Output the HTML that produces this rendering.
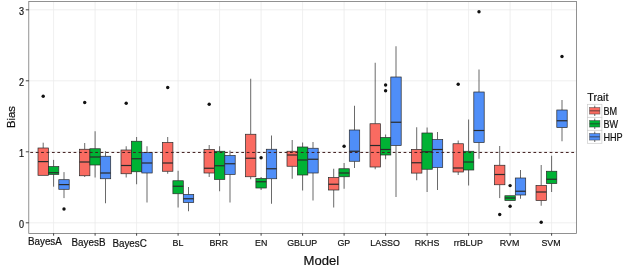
<!DOCTYPE html>
<html><head><meta charset="utf-8"><title>Bias boxplot</title>
<style>html,body{margin:0;padding:0;background:#fff}svg{display:block}text{font-family:"Liberation Sans",Arial,sans-serif;fill:#111;stroke:#111;stroke-width:0.2px}</style></head><body>
<svg width="625" height="267" viewBox="0 0 625 267">
<rect x="0" y="0" width="625" height="267" fill="#ffffff"/>
<line x1="28.8" x2="576.4" y1="222.80" y2="222.80" stroke="#ebebeb" stroke-width="0.8"/>
<line x1="28.8" x2="576.4" y1="151.80" y2="151.80" stroke="#ebebeb" stroke-width="0.8"/>
<line x1="28.8" x2="576.4" y1="80.80" y2="80.80" stroke="#ebebeb" stroke-width="0.8"/>
<line x1="28.8" x2="576.4" y1="9.80" y2="9.80" stroke="#ebebeb" stroke-width="0.8"/>
<line x1="53.60" x2="53.60" y1="1.6" y2="233.4" stroke="#ebebeb" stroke-width="0.8"/>
<line x1="95.10" x2="95.10" y1="1.6" y2="233.4" stroke="#ebebeb" stroke-width="0.8"/>
<line x1="136.60" x2="136.60" y1="1.6" y2="233.4" stroke="#ebebeb" stroke-width="0.8"/>
<line x1="178.10" x2="178.10" y1="1.6" y2="233.4" stroke="#ebebeb" stroke-width="0.8"/>
<line x1="219.60" x2="219.60" y1="1.6" y2="233.4" stroke="#ebebeb" stroke-width="0.8"/>
<line x1="261.10" x2="261.10" y1="1.6" y2="233.4" stroke="#ebebeb" stroke-width="0.8"/>
<line x1="302.60" x2="302.60" y1="1.6" y2="233.4" stroke="#ebebeb" stroke-width="0.8"/>
<line x1="344.10" x2="344.10" y1="1.6" y2="233.4" stroke="#ebebeb" stroke-width="0.8"/>
<line x1="385.60" x2="385.60" y1="1.6" y2="233.4" stroke="#ebebeb" stroke-width="0.8"/>
<line x1="427.10" x2="427.10" y1="1.6" y2="233.4" stroke="#ebebeb" stroke-width="0.8"/>
<line x1="468.60" x2="468.60" y1="1.6" y2="233.4" stroke="#ebebeb" stroke-width="0.8"/>
<line x1="510.10" x2="510.10" y1="1.6" y2="233.4" stroke="#ebebeb" stroke-width="0.8"/>
<line x1="551.60" x2="551.60" y1="1.6" y2="233.4" stroke="#ebebeb" stroke-width="0.8"/>
<circle cx="43.20" cy="96.25" r="1.7" fill="#111"/>
<line x1="43.20" x2="43.20" y1="142.7" y2="148" stroke="#2a2a2a" stroke-width="0.7"/>
<rect x="38.00" y="148" width="10.4" height="27.30" fill="#FA6B61" stroke="#2a2a2a" stroke-width="0.7"/>
<line x1="38.00" x2="48.40" y1="161.6" y2="161.6" stroke="#2a2a2a" stroke-width="1.2"/>
<line x1="53.60" x2="53.60" y1="159.9" y2="166.6" stroke="#2a2a2a" stroke-width="0.7"/>
<line x1="53.60" x2="53.60" y1="174.4" y2="186.7" stroke="#2a2a2a" stroke-width="0.7"/>
<rect x="48.40" y="166.6" width="10.4" height="7.80" fill="#00B234" stroke="#2a2a2a" stroke-width="0.7"/>
<line x1="48.40" x2="58.80" y1="172.7" y2="172.7" stroke="#2a2a2a" stroke-width="1.2"/>
<circle cx="64.00" cy="209" r="1.7" fill="#111"/>
<line x1="64.00" x2="64.00" y1="172.1" y2="179.7" stroke="#2a2a2a" stroke-width="0.7"/>
<line x1="64.00" x2="64.00" y1="189.3" y2="198.1" stroke="#2a2a2a" stroke-width="0.7"/>
<rect x="58.80" y="179.7" width="10.4" height="9.60" fill="#4F8EF8" stroke="#2a2a2a" stroke-width="0.7"/>
<line x1="58.80" x2="69.20" y1="184.6" y2="184.6" stroke="#2a2a2a" stroke-width="1.2"/>
<circle cx="84.70" cy="102.5" r="1.7" fill="#111"/>
<line x1="84.70" x2="84.70" y1="143" y2="149.25" stroke="#2a2a2a" stroke-width="0.7"/>
<line x1="84.70" x2="84.70" y1="175.75" y2="177" stroke="#2a2a2a" stroke-width="0.7"/>
<rect x="79.50" y="149.25" width="10.4" height="26.50" fill="#FA6B61" stroke="#2a2a2a" stroke-width="0.7"/>
<line x1="79.50" x2="89.90" y1="162" y2="162" stroke="#2a2a2a" stroke-width="1.2"/>
<line x1="95.10" x2="95.10" y1="131.25" y2="148.75" stroke="#2a2a2a" stroke-width="0.7"/>
<line x1="95.10" x2="95.10" y1="165" y2="177.5" stroke="#2a2a2a" stroke-width="0.7"/>
<rect x="89.90" y="148.75" width="10.4" height="16.25" fill="#00B234" stroke="#2a2a2a" stroke-width="0.7"/>
<line x1="89.90" x2="100.30" y1="157" y2="157" stroke="#2a2a2a" stroke-width="1.2"/>
<line x1="105.50" x2="105.50" y1="151.25" y2="156.25" stroke="#2a2a2a" stroke-width="0.7"/>
<line x1="105.50" x2="105.50" y1="178.75" y2="203.25" stroke="#2a2a2a" stroke-width="0.7"/>
<rect x="100.30" y="156.25" width="10.4" height="22.50" fill="#4F8EF8" stroke="#2a2a2a" stroke-width="0.7"/>
<line x1="100.30" x2="110.70" y1="173" y2="173" stroke="#2a2a2a" stroke-width="1.2"/>
<circle cx="126.20" cy="103.25" r="1.7" fill="#111"/>
<line x1="126.20" x2="126.20" y1="146.25" y2="150" stroke="#2a2a2a" stroke-width="0.7"/>
<line x1="126.20" x2="126.20" y1="173.75" y2="177.5" stroke="#2a2a2a" stroke-width="0.7"/>
<rect x="121.00" y="150" width="10.4" height="23.75" fill="#FA6B61" stroke="#2a2a2a" stroke-width="0.7"/>
<line x1="121.00" x2="131.40" y1="165.5" y2="165.5" stroke="#2a2a2a" stroke-width="1.2"/>
<line x1="136.60" x2="136.60" y1="137" y2="141.25" stroke="#2a2a2a" stroke-width="0.7"/>
<line x1="136.60" x2="136.60" y1="171.75" y2="184.25" stroke="#2a2a2a" stroke-width="0.7"/>
<rect x="131.40" y="141.25" width="10.4" height="30.50" fill="#00B234" stroke="#2a2a2a" stroke-width="0.7"/>
<line x1="131.40" x2="141.80" y1="158.75" y2="158.75" stroke="#2a2a2a" stroke-width="1.2"/>
<line x1="147.00" x2="147.00" y1="146.25" y2="152.5" stroke="#2a2a2a" stroke-width="0.7"/>
<line x1="147.00" x2="147.00" y1="173" y2="202.5" stroke="#2a2a2a" stroke-width="0.7"/>
<rect x="141.80" y="152.5" width="10.4" height="20.50" fill="#4F8EF8" stroke="#2a2a2a" stroke-width="0.7"/>
<line x1="141.80" x2="152.20" y1="163" y2="163" stroke="#2a2a2a" stroke-width="1.2"/>
<circle cx="167.70" cy="87.5" r="1.7" fill="#111"/>
<line x1="167.70" x2="167.70" y1="137" y2="142.5" stroke="#2a2a2a" stroke-width="0.7"/>
<line x1="167.70" x2="167.70" y1="171.25" y2="173.75" stroke="#2a2a2a" stroke-width="0.7"/>
<rect x="162.50" y="142.5" width="10.4" height="28.75" fill="#FA6B61" stroke="#2a2a2a" stroke-width="0.7"/>
<line x1="162.50" x2="172.90" y1="163" y2="163" stroke="#2a2a2a" stroke-width="1.2"/>
<line x1="178.10" x2="178.10" y1="170.75" y2="180.75" stroke="#2a2a2a" stroke-width="0.7"/>
<line x1="178.10" x2="178.10" y1="193.75" y2="207.5" stroke="#2a2a2a" stroke-width="0.7"/>
<rect x="172.90" y="180.75" width="10.4" height="13.00" fill="#00B234" stroke="#2a2a2a" stroke-width="0.7"/>
<line x1="172.90" x2="183.30" y1="186.25" y2="186.25" stroke="#2a2a2a" stroke-width="1.2"/>
<line x1="188.50" x2="188.50" y1="187" y2="194.5" stroke="#2a2a2a" stroke-width="0.7"/>
<line x1="188.50" x2="188.50" y1="202.5" y2="211.25" stroke="#2a2a2a" stroke-width="0.7"/>
<rect x="183.30" y="194.5" width="10.4" height="8.00" fill="#4F8EF8" stroke="#2a2a2a" stroke-width="0.7"/>
<line x1="183.30" x2="193.70" y1="198.75" y2="198.75" stroke="#2a2a2a" stroke-width="1.2"/>
<circle cx="209.20" cy="104.25" r="1.7" fill="#111"/>
<line x1="209.20" x2="209.20" y1="145" y2="149.5" stroke="#2a2a2a" stroke-width="0.7"/>
<line x1="209.20" x2="209.20" y1="173" y2="177" stroke="#2a2a2a" stroke-width="0.7"/>
<rect x="204.00" y="149.5" width="10.4" height="23.50" fill="#FA6B61" stroke="#2a2a2a" stroke-width="0.7"/>
<line x1="204.00" x2="214.40" y1="168.25" y2="168.25" stroke="#2a2a2a" stroke-width="1.2"/>
<line x1="219.60" x2="219.60" y1="146.25" y2="151.25" stroke="#2a2a2a" stroke-width="0.7"/>
<line x1="219.60" x2="219.60" y1="179.4" y2="191.25" stroke="#2a2a2a" stroke-width="0.7"/>
<rect x="214.40" y="151.25" width="10.4" height="28.15" fill="#00B234" stroke="#2a2a2a" stroke-width="0.7"/>
<line x1="214.40" x2="224.80" y1="165.75" y2="165.75" stroke="#2a2a2a" stroke-width="1.2"/>
<line x1="230.00" x2="230.00" y1="150.5" y2="155.5" stroke="#2a2a2a" stroke-width="0.7"/>
<line x1="230.00" x2="230.00" y1="174.4" y2="202.5" stroke="#2a2a2a" stroke-width="0.7"/>
<rect x="224.80" y="155.5" width="10.4" height="18.90" fill="#4F8EF8" stroke="#2a2a2a" stroke-width="0.7"/>
<line x1="224.80" x2="235.20" y1="163.75" y2="163.75" stroke="#2a2a2a" stroke-width="1.2"/>
<line x1="250.70" x2="250.70" y1="78.75" y2="134.25" stroke="#2a2a2a" stroke-width="0.7"/>
<line x1="250.70" x2="250.70" y1="176.75" y2="179.25" stroke="#2a2a2a" stroke-width="0.7"/>
<rect x="245.50" y="134.25" width="10.4" height="42.50" fill="#FA6B61" stroke="#2a2a2a" stroke-width="0.7"/>
<line x1="245.50" x2="255.90" y1="158.25" y2="158.25" stroke="#2a2a2a" stroke-width="1.2"/>
<circle cx="261.10" cy="157.75" r="1.7" fill="#111"/>
<line x1="261.10" x2="261.10" y1="177" y2="178.5" stroke="#2a2a2a" stroke-width="0.7"/>
<line x1="261.10" x2="261.10" y1="188" y2="190" stroke="#2a2a2a" stroke-width="0.7"/>
<rect x="255.90" y="178.5" width="10.4" height="9.50" fill="#00B234" stroke="#2a2a2a" stroke-width="0.7"/>
<line x1="255.90" x2="266.30" y1="181.75" y2="181.75" stroke="#2a2a2a" stroke-width="1.2"/>
<line x1="271.50" x2="271.50" y1="135.5" y2="149.25" stroke="#2a2a2a" stroke-width="0.7"/>
<line x1="271.50" x2="271.50" y1="178.75" y2="203.75" stroke="#2a2a2a" stroke-width="0.7"/>
<rect x="266.30" y="149.25" width="10.4" height="29.50" fill="#4F8EF8" stroke="#2a2a2a" stroke-width="0.7"/>
<line x1="266.30" x2="276.70" y1="168.75" y2="168.75" stroke="#2a2a2a" stroke-width="1.2"/>
<line x1="292.20" x2="292.20" y1="140" y2="151.25" stroke="#2a2a2a" stroke-width="0.7"/>
<line x1="292.20" x2="292.20" y1="166.25" y2="178.75" stroke="#2a2a2a" stroke-width="0.7"/>
<rect x="287.00" y="151.25" width="10.4" height="15.00" fill="#FA6B61" stroke="#2a2a2a" stroke-width="0.7"/>
<line x1="287.00" x2="297.40" y1="155" y2="155" stroke="#2a2a2a" stroke-width="1.2"/>
<line x1="302.60" x2="302.60" y1="142.5" y2="147" stroke="#2a2a2a" stroke-width="0.7"/>
<line x1="302.60" x2="302.60" y1="175" y2="190.5" stroke="#2a2a2a" stroke-width="0.7"/>
<rect x="297.40" y="147" width="10.4" height="28.00" fill="#00B234" stroke="#2a2a2a" stroke-width="0.7"/>
<line x1="297.40" x2="307.80" y1="160" y2="160" stroke="#2a2a2a" stroke-width="1.2"/>
<line x1="313.00" x2="313.00" y1="142" y2="148.25" stroke="#2a2a2a" stroke-width="0.7"/>
<line x1="313.00" x2="313.00" y1="173" y2="200.5" stroke="#2a2a2a" stroke-width="0.7"/>
<rect x="307.80" y="148.25" width="10.4" height="24.75" fill="#4F8EF8" stroke="#2a2a2a" stroke-width="0.7"/>
<line x1="307.80" x2="318.20" y1="159.25" y2="159.25" stroke="#2a2a2a" stroke-width="1.2"/>
<line x1="333.70" x2="333.70" y1="168.75" y2="177.5" stroke="#2a2a2a" stroke-width="0.7"/>
<line x1="333.70" x2="333.70" y1="190" y2="207.5" stroke="#2a2a2a" stroke-width="0.7"/>
<rect x="328.50" y="177.5" width="10.4" height="12.50" fill="#FA6B61" stroke="#2a2a2a" stroke-width="0.7"/>
<line x1="328.50" x2="338.90" y1="184.25" y2="184.25" stroke="#2a2a2a" stroke-width="1.2"/>
<circle cx="344.10" cy="146.25" r="1.7" fill="#111"/>
<line x1="344.10" x2="344.10" y1="163" y2="168.75" stroke="#2a2a2a" stroke-width="0.7"/>
<line x1="344.10" x2="344.10" y1="176.75" y2="188.75" stroke="#2a2a2a" stroke-width="0.7"/>
<rect x="338.90" y="168.75" width="10.4" height="8.00" fill="#00B234" stroke="#2a2a2a" stroke-width="0.7"/>
<line x1="338.90" x2="349.30" y1="173" y2="173" stroke="#2a2a2a" stroke-width="1.2"/>
<line x1="354.50" x2="354.50" y1="105.75" y2="130" stroke="#2a2a2a" stroke-width="0.7"/>
<line x1="354.50" x2="354.50" y1="161.25" y2="168" stroke="#2a2a2a" stroke-width="0.7"/>
<rect x="349.30" y="130" width="10.4" height="31.25" fill="#4F8EF8" stroke="#2a2a2a" stroke-width="0.7"/>
<line x1="349.30" x2="359.70" y1="151.25" y2="151.25" stroke="#2a2a2a" stroke-width="1.2"/>
<line x1="375.20" x2="375.20" y1="62.75" y2="123.75" stroke="#2a2a2a" stroke-width="0.7"/>
<line x1="375.20" x2="375.20" y1="167" y2="169.25" stroke="#2a2a2a" stroke-width="0.7"/>
<rect x="370.00" y="123.75" width="10.4" height="43.25" fill="#FA6B61" stroke="#2a2a2a" stroke-width="0.7"/>
<line x1="370.00" x2="380.40" y1="145.5" y2="145.5" stroke="#2a2a2a" stroke-width="1.2"/>
<circle cx="385.60" cy="85" r="1.7" fill="#111"/>
<circle cx="385.60" cy="90.75" r="1.7" fill="#111"/>
<line x1="385.60" x2="385.60" y1="134.5" y2="137.5" stroke="#2a2a2a" stroke-width="0.7"/>
<line x1="385.60" x2="385.60" y1="155" y2="159.25" stroke="#2a2a2a" stroke-width="0.7"/>
<rect x="380.40" y="137.5" width="10.4" height="17.50" fill="#00B234" stroke="#2a2a2a" stroke-width="0.7"/>
<line x1="380.40" x2="390.80" y1="149.5" y2="149.5" stroke="#2a2a2a" stroke-width="1.2"/>
<line x1="396.00" x2="396.00" y1="46.25" y2="77" stroke="#2a2a2a" stroke-width="0.7"/>
<line x1="396.00" x2="396.00" y1="145.5" y2="197" stroke="#2a2a2a" stroke-width="0.7"/>
<rect x="390.80" y="77" width="10.4" height="68.50" fill="#4F8EF8" stroke="#2a2a2a" stroke-width="0.7"/>
<line x1="390.80" x2="401.20" y1="122.25" y2="122.25" stroke="#2a2a2a" stroke-width="1.2"/>
<line x1="416.70" x2="416.70" y1="127.25" y2="149.4" stroke="#2a2a2a" stroke-width="0.7"/>
<line x1="416.70" x2="416.70" y1="173.1" y2="180.25" stroke="#2a2a2a" stroke-width="0.7"/>
<rect x="411.50" y="149.4" width="10.4" height="23.70" fill="#FA6B61" stroke="#2a2a2a" stroke-width="0.7"/>
<line x1="411.50" x2="421.90" y1="162.75" y2="162.75" stroke="#2a2a2a" stroke-width="1.2"/>
<line x1="427.10" x2="427.10" y1="127.5" y2="133" stroke="#2a2a2a" stroke-width="0.7"/>
<line x1="427.10" x2="427.10" y1="169.25" y2="192" stroke="#2a2a2a" stroke-width="0.7"/>
<rect x="421.90" y="133" width="10.4" height="36.25" fill="#00B234" stroke="#2a2a2a" stroke-width="0.7"/>
<line x1="421.90" x2="432.30" y1="151.75" y2="151.75" stroke="#2a2a2a" stroke-width="1.2"/>
<line x1="437.50" x2="437.50" y1="132" y2="139.5" stroke="#2a2a2a" stroke-width="0.7"/>
<line x1="437.50" x2="437.50" y1="167.5" y2="190" stroke="#2a2a2a" stroke-width="0.7"/>
<rect x="432.30" y="139.5" width="10.4" height="28.00" fill="#4F8EF8" stroke="#2a2a2a" stroke-width="0.7"/>
<line x1="432.30" x2="442.70" y1="149.5" y2="149.5" stroke="#2a2a2a" stroke-width="1.2"/>
<circle cx="458.20" cy="84.25" r="1.7" fill="#111"/>
<line x1="458.20" x2="458.20" y1="140.5" y2="143.75" stroke="#2a2a2a" stroke-width="0.7"/>
<line x1="458.20" x2="458.20" y1="172" y2="175" stroke="#2a2a2a" stroke-width="0.7"/>
<rect x="453.00" y="143.75" width="10.4" height="28.25" fill="#FA6B61" stroke="#2a2a2a" stroke-width="0.7"/>
<line x1="453.00" x2="463.40" y1="168" y2="168" stroke="#2a2a2a" stroke-width="1.2"/>
<line x1="468.60" x2="468.60" y1="119.5" y2="151.25" stroke="#2a2a2a" stroke-width="0.7"/>
<line x1="468.60" x2="468.60" y1="170" y2="185.5" stroke="#2a2a2a" stroke-width="0.7"/>
<rect x="463.40" y="151.25" width="10.4" height="18.75" fill="#00B234" stroke="#2a2a2a" stroke-width="0.7"/>
<line x1="463.40" x2="473.80" y1="162" y2="162" stroke="#2a2a2a" stroke-width="1.2"/>
<circle cx="479.00" cy="11.75" r="1.7" fill="#111"/>
<line x1="479.00" x2="479.00" y1="69.5" y2="92" stroke="#2a2a2a" stroke-width="0.7"/>
<line x1="479.00" x2="479.00" y1="142.5" y2="158.75" stroke="#2a2a2a" stroke-width="0.7"/>
<rect x="473.80" y="92" width="10.4" height="50.50" fill="#4F8EF8" stroke="#2a2a2a" stroke-width="0.7"/>
<line x1="473.80" x2="484.20" y1="130.5" y2="130.5" stroke="#2a2a2a" stroke-width="1.2"/>
<circle cx="499.70" cy="214.5" r="1.7" fill="#111"/>
<line x1="499.70" x2="499.70" y1="146" y2="165.25" stroke="#2a2a2a" stroke-width="0.7"/>
<line x1="499.70" x2="499.70" y1="184.75" y2="198.1" stroke="#2a2a2a" stroke-width="0.7"/>
<rect x="494.50" y="165.25" width="10.4" height="19.50" fill="#FA6B61" stroke="#2a2a2a" stroke-width="0.7"/>
<line x1="494.50" x2="504.90" y1="174.5" y2="174.5" stroke="#2a2a2a" stroke-width="1.2"/>
<circle cx="510.10" cy="185.6" r="1.7" fill="#111"/>
<circle cx="510.10" cy="206.25" r="1.7" fill="#111"/>
<rect x="504.90" y="195.75" width="10.4" height="4.75" fill="#00B234" stroke="#2a2a2a" stroke-width="0.7"/>
<line x1="504.90" x2="515.30" y1="198" y2="198" stroke="#2a2a2a" stroke-width="1.2"/>
<line x1="520.50" x2="520.50" y1="170" y2="178" stroke="#2a2a2a" stroke-width="0.7"/>
<line x1="520.50" x2="520.50" y1="195" y2="198.75" stroke="#2a2a2a" stroke-width="0.7"/>
<rect x="515.30" y="178" width="10.4" height="17.00" fill="#4F8EF8" stroke="#2a2a2a" stroke-width="0.7"/>
<line x1="515.30" x2="525.70" y1="191.25" y2="191.25" stroke="#2a2a2a" stroke-width="1.2"/>
<circle cx="541.20" cy="222.25" r="1.7" fill="#111"/>
<line x1="541.20" x2="541.20" y1="165" y2="185.5" stroke="#2a2a2a" stroke-width="0.7"/>
<line x1="541.20" x2="541.20" y1="200.5" y2="205.75" stroke="#2a2a2a" stroke-width="0.7"/>
<rect x="536.00" y="185.5" width="10.4" height="15.00" fill="#FA6B61" stroke="#2a2a2a" stroke-width="0.7"/>
<line x1="536.00" x2="546.40" y1="192" y2="192" stroke="#2a2a2a" stroke-width="1.2"/>
<line x1="551.60" x2="551.60" y1="155.75" y2="171.25" stroke="#2a2a2a" stroke-width="0.7"/>
<line x1="551.60" x2="551.60" y1="183.5" y2="192" stroke="#2a2a2a" stroke-width="0.7"/>
<rect x="546.40" y="171.25" width="10.4" height="12.25" fill="#00B234" stroke="#2a2a2a" stroke-width="0.7"/>
<line x1="546.40" x2="556.80" y1="179.25" y2="179.25" stroke="#2a2a2a" stroke-width="1.2"/>
<circle cx="562.00" cy="56.5" r="1.7" fill="#111"/>
<line x1="562.00" x2="562.00" y1="100" y2="110" stroke="#2a2a2a" stroke-width="0.7"/>
<line x1="562.00" x2="562.00" y1="127.5" y2="141.25" stroke="#2a2a2a" stroke-width="0.7"/>
<rect x="556.80" y="110" width="10.4" height="17.50" fill="#4F8EF8" stroke="#2a2a2a" stroke-width="0.7"/>
<line x1="556.80" x2="567.20" y1="120.75" y2="120.75" stroke="#2a2a2a" stroke-width="1.2"/>
<line x1="28.8" x2="576.4" y1="152.45" y2="152.45" stroke="#3f1c1c" stroke-width="1.0" stroke-dasharray="2.75 2.66" stroke-dashoffset="3.9"/>
<rect x="28.8" y="1.6" width="547.6" height="231.8" fill="none" stroke="#6e6e6e" stroke-width="0.75"/>
<line x1="25.8" x2="28.8" y1="222.80" y2="222.80" stroke="#222" stroke-width="0.85"/>
<text transform="translate(24.1,227.75) scale(0.89,1)" font-size="10.2" text-anchor="end">0</text>
<line x1="25.8" x2="28.8" y1="151.80" y2="151.80" stroke="#222" stroke-width="0.85"/>
<text transform="translate(24.1,156.75) scale(0.89,1)" font-size="10.2" text-anchor="end">1</text>
<line x1="25.8" x2="28.8" y1="80.80" y2="80.80" stroke="#222" stroke-width="0.85"/>
<text transform="translate(24.1,85.75) scale(0.89,1)" font-size="10.2" text-anchor="end">2</text>
<line x1="25.8" x2="28.8" y1="9.80" y2="9.80" stroke="#222" stroke-width="0.85"/>
<text transform="translate(24.1,14.75) scale(0.89,1)" font-size="10.2" text-anchor="end">3</text>
<line x1="53.60" x2="53.60" y1="233.4" y2="235.70000000000002" stroke="#222" stroke-width="0.85"/>
<text transform="translate(44.9,245.2) scale(0.895,1)" font-size="11" text-anchor="middle">BayesA</text>
<line x1="95.10" x2="95.10" y1="233.4" y2="235.70000000000002" stroke="#222" stroke-width="0.85"/>
<text transform="translate(88.5,246.0) scale(0.895,1)" font-size="11" text-anchor="middle">BayesB</text>
<line x1="136.60" x2="136.60" y1="233.4" y2="235.70000000000002" stroke="#222" stroke-width="0.85"/>
<text transform="translate(129.6,246.8) scale(0.895,1)" font-size="11" text-anchor="middle">BayesC</text>
<line x1="178.10" x2="178.10" y1="233.4" y2="235.70000000000002" stroke="#222" stroke-width="0.85"/>
<text transform="translate(178,246.2) scale(0.895,1)" font-size="9.9" text-anchor="middle">BL</text>
<line x1="219.60" x2="219.60" y1="233.4" y2="235.70000000000002" stroke="#222" stroke-width="0.85"/>
<text transform="translate(218.8,246.2) scale(0.895,1)" font-size="9.9" text-anchor="middle">BRR</text>
<line x1="261.10" x2="261.10" y1="233.4" y2="235.70000000000002" stroke="#222" stroke-width="0.85"/>
<text transform="translate(261.2,246.2) scale(0.895,1)" font-size="9.9" text-anchor="middle">EN</text>
<line x1="302.60" x2="302.60" y1="233.4" y2="235.70000000000002" stroke="#222" stroke-width="0.85"/>
<text transform="translate(302.2,246.2) scale(0.895,1)" font-size="9.9" text-anchor="middle">GBLUP</text>
<line x1="344.10" x2="344.10" y1="233.4" y2="235.70000000000002" stroke="#222" stroke-width="0.85"/>
<text transform="translate(343.8,246.2) scale(0.895,1)" font-size="9.9" text-anchor="middle">GP</text>
<line x1="385.60" x2="385.60" y1="233.4" y2="235.70000000000002" stroke="#222" stroke-width="0.85"/>
<text transform="translate(385.1,246.2) scale(0.895,1)" font-size="9.9" text-anchor="middle">LASSO</text>
<line x1="427.10" x2="427.10" y1="233.4" y2="235.70000000000002" stroke="#222" stroke-width="0.85"/>
<text transform="translate(427,246.2) scale(0.895,1)" font-size="9.9" text-anchor="middle">RKHS</text>
<line x1="468.60" x2="468.60" y1="233.4" y2="235.70000000000002" stroke="#222" stroke-width="0.85"/>
<text transform="translate(468.3,246.2) scale(0.895,1)" font-size="9.9" text-anchor="middle">rrBLUP</text>
<line x1="510.10" x2="510.10" y1="233.4" y2="235.70000000000002" stroke="#222" stroke-width="0.85"/>
<text transform="translate(509.6,246.2) scale(0.895,1)" font-size="9.9" text-anchor="middle">RVM</text>
<line x1="551.60" x2="551.60" y1="233.4" y2="235.70000000000002" stroke="#222" stroke-width="0.85"/>
<text transform="translate(551,246.2) scale(0.895,1)" font-size="9.9" text-anchor="middle">SVM</text>
<text transform="translate(321.3,264.7) scale(1.04,1)" font-size="12.6" text-anchor="middle">Model</text>
<text transform="translate(15,117) rotate(-90)" font-size="11.3" text-anchor="middle">Bias</text>
<text transform="translate(587.3,100.6) scale(0.94,1)" font-size="11.5" text-anchor="start">Trait</text>
<rect x="587.6" y="104.30" width="14.3" height="13.0" fill="#fff" stroke="#cccccc" stroke-width="0.7"/>
<line x1="594.75" x2="594.75" y1="105.60" y2="116.00" stroke="#2a2a2a" stroke-width="0.7"/>
<rect x="589.64" y="107.55" width="10.21" height="6.50" fill="#FA6B61" stroke="#2a2a2a" stroke-opacity="0.6" stroke-width="0.7"/>
<line x1="589.64" x2="599.86" y1="110.80" y2="110.80" stroke="#2a2a2a" stroke-opacity="0.6" stroke-width="1.2"/>
<text transform="translate(603.4,114.7) scale(0.885,1)" font-size="10.3" text-anchor="start">BM</text>
<rect x="587.6" y="117.30" width="14.3" height="13.0" fill="#fff" stroke="#cccccc" stroke-width="0.7"/>
<line x1="594.75" x2="594.75" y1="118.60" y2="129.00" stroke="#2a2a2a" stroke-width="0.7"/>
<rect x="589.64" y="120.55" width="10.21" height="6.50" fill="#00B234" stroke="#2a2a2a" stroke-opacity="0.6" stroke-width="0.7"/>
<line x1="589.64" x2="599.86" y1="123.80" y2="123.80" stroke="#2a2a2a" stroke-opacity="0.6" stroke-width="1.2"/>
<text transform="translate(603.4,127.7) scale(0.885,1)" font-size="10.3" text-anchor="start">BW</text>
<rect x="587.6" y="130.30" width="14.3" height="13.0" fill="#fff" stroke="#cccccc" stroke-width="0.7"/>
<line x1="594.75" x2="594.75" y1="131.60" y2="142.00" stroke="#2a2a2a" stroke-width="0.7"/>
<rect x="589.64" y="133.55" width="10.21" height="6.50" fill="#4F8EF8" stroke="#2a2a2a" stroke-opacity="0.6" stroke-width="0.7"/>
<line x1="589.64" x2="599.86" y1="136.80" y2="136.80" stroke="#2a2a2a" stroke-opacity="0.6" stroke-width="1.2"/>
<text transform="translate(603.4,140.7) scale(0.885,1)" font-size="10.3" text-anchor="start">HHP</text>
</svg></body></html>
